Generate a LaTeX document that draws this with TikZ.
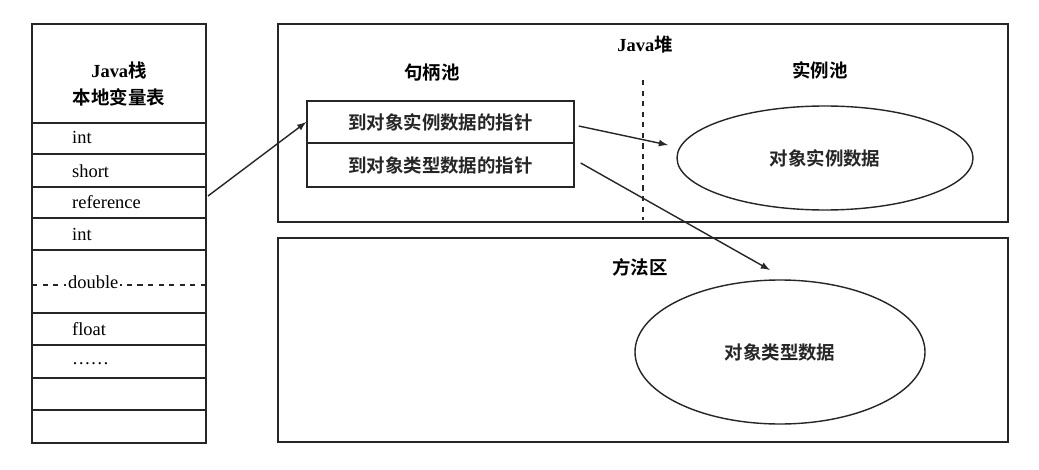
\documentclass[tikz,border=0pt]{standalone}
\usepackage{fontspec}
\usetikzlibrary{shapes.geometric}
\setmainfont{Liberation Serif}
\newfontfamily\cjk{Noto Sans CJK SC}[BoldFont={Noto Sans CJK SC Bold}]
\begin{document}
\begin{tikzpicture}[x=0.02cm,y=-0.02cm,
  ln/.style={line width=0.8pt,black!85},
  lbl/.style={font=\fontsize{10.5}{12}\selectfont},
  zh/.style={font=\fontsize{10.5}{12}\selectfont\cjk\bfseries},
  arr/.style={ln,-latex}]
\useasboundingbox[fill=white] (0,0) rectangle (1039,470);
% left stack
\draw[ln] (32,24) rectangle (206,443);
\foreach \y in {123,154,187,218,250,313,345,378,410}
  \draw[ln] (32,\y) -- (206,\y);
\draw[ln,dashed] (32,285) -- (206,285);
\node[lbl,font=\fontsize{10.5}{12}\selectfont\bfseries] (jz) at (119,70) {Java\cjk 栈};
\node[zh] (bd) at (119,97) {本地变量表};
\node[lbl,anchor=west] (i1) at (66,137) {int};
\node[lbl,anchor=west] (sh) at (66,171) {short};
\node[lbl,anchor=west] (rf) at (66,202) {reference};
\node[lbl,anchor=west] (i2) at (66,234) {int};
\node[lbl,anchor=west,fill=white,inner sep=1pt] (db) at (66,282) {double};
\node[lbl,anchor=west] (fl) at (66,329) {float};
\node[lbl,anchor=west] (dt) at (66,364) {……};
\coordinate (rfr) at (208,196);
% heap
\draw[ln] (278,24) rectangle (1008,222);
\node[lbl,font=\fontsize{10.5}{12}\selectfont\bfseries] (heap) at (645,45) {Java\cjk 堆};
\node[zh] (jbc) at (432,73) {句柄池};
\node[zh] (slc) at (820,70) {实例池};
\draw[ln,dashed] (643,80) -- (643,220);
\node[draw,ln,zh,minimum width=267*0.02cm,minimum height=42*0.02cm,inner sep=0] (p1) at (440.5,122) {到对象实例数据的指针};
\node[draw,ln,zh,minimum width=267*0.02cm,minimum height=44*0.02cm,inner sep=0] (p2) at (440.5,165) {到对象类型数据的指针};
\node[draw,ln,ellipse,zh,minimum width=296*0.02cm,minimum height=104*0.02cm] (e1) at (825,158) {对象实例数据};
% method area
\draw[ln] (278,238) rectangle (1008,442);
\node[zh] (ff) at (640,267) {方法区};
\node[draw,ln,ellipse,zh,minimum width=290*0.02cm,minimum height=144*0.02cm] (e2) at (780,352) {对象类型数据};
% arrows
\draw[arr] (rfr) -- (p1.west);
\draw[arr] (p1.east) ++(4,4) -- (668,145);
\draw[arr] (p2.east) ++(6,-2) -- (770,270);
\end{tikzpicture}
\end{document}
